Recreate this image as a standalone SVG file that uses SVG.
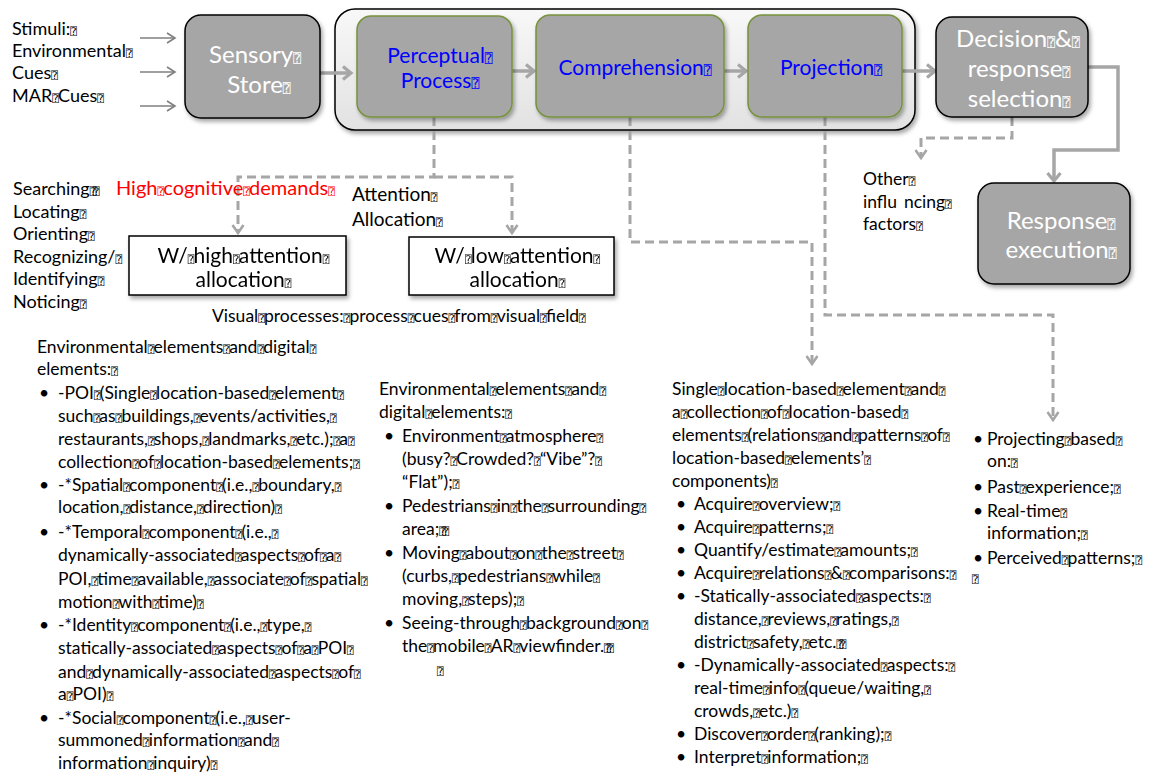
<svg xmlns="http://www.w3.org/2000/svg" width="1149" height="774" viewBox="0 0 1149 774">
  <style>
    .t { font-family: Lato, "Liberation Sans", sans-serif; font-size: 17.5px; fill: #000; }
    .lb { font-size: 18px; }
    .q { font-family: "DejaVu Sans Mono", "DejaVu Sans", monospace; font-size: 10.5px; letter-spacing: -0.5px; }
    .qq { font-family: "DejaVu Sans Mono", "DejaVu Sans", monospace; font-size: 10.5px; letter-spacing: -3px; }
    .qb { font-family: "DejaVu Sans Mono", "DejaVu Sans", monospace; font-size: 13px; }
    .ttl { font-size: 24px; fill: #ffffff; text-anchor: middle; }
    .blue { font-size: 21px; fill: #0000ff; text-anchor: middle; }
    .red { font-size: 20px; fill: #ff0000; }
    .wb { font-size: 21px; text-anchor: middle; }
    .att { font-size: 19px; }
    .gbox { fill: #a6a6a6; stroke: #000; stroke-width: 1.5; }
    .ibox { fill: #a6a6a6; stroke: #77933c; stroke-width: 1.5; }
    .wbox { fill: #ffffff; stroke: #000; stroke-width: 1.5; }
    .dash { fill: none; stroke: #a6a6a6; stroke-width: 3; stroke-dasharray: 9 5; }
    .solid { fill: none; stroke: #a6a6a6; stroke-width: 3.5; }
    .thin { fill: none; stroke: #7f7f7f; stroke-width: 1.6; }
  </style>
  <defs>
    <linearGradient id="panel" x1="0" y1="0" x2="0" y2="1">
      <stop offset="0" stop-color="#f8f8f8"/>
      <stop offset="1" stop-color="#e2e2e2"/>
    </linearGradient>
    <filter id="shadow" x="-10%" y="-10%" width="130%" height="140%">
      <feDropShadow dx="2" dy="3" stdDeviation="2.2" flood-color="#000" flood-opacity="0.35"/>
    </filter>
    <marker id="hd" viewBox="0 0 14 14" refX="11" refY="7" markerWidth="14" markerHeight="14" markerUnits="userSpaceOnUse" orient="auto">
      <path d="M3,1.5 L11,7 L3,12.5" fill="none" stroke="#a6a6a6" stroke-width="2.6" stroke-dasharray="none"/>
    </marker>
    <marker id="hs" viewBox="0 0 16 16" refX="12" refY="8" markerWidth="16" markerHeight="16" markerUnits="userSpaceOnUse" orient="auto">
      <path d="M4,1.5 L12,8 L4,14.5" fill="none" stroke="#a6a6a6" stroke-width="3.2"/>
    </marker>
    <marker id="ht" viewBox="0 0 14 14" refX="12" refY="7" markerWidth="14" markerHeight="14" markerUnits="userSpaceOnUse" orient="auto">
      <path d="M4,2 L12,7 L4,12" fill="none" stroke="#7f7f7f" stroke-width="1.6"/>
    </marker>
  </defs>

  <rect width="1149" height="774" fill="#ffffff"/>

  <!-- outer panel holding the three situation-awareness stages -->
  <g id="panel-stages">
    <rect x="335" y="9" width="580" height="121" rx="20" fill="url(#panel)" stroke="#000" stroke-width="1.5" filter="url(#shadow)"/>
  </g>

  <!-- connectors -->
  <g id="connectors">
    <line class="thin" x1="140" y1="38" x2="175" y2="38" marker-end="url(#ht)"/>
    <line class="thin" x1="140" y1="72" x2="175" y2="72" marker-end="url(#ht)"/>
    <line class="thin" x1="140" y1="106" x2="175" y2="106" marker-end="url(#ht)"/>
    <line class="solid" x1="320" y1="73" x2="351" y2="73" marker-end="url(#hs)"/>
    <line class="solid" x1="512" y1="71" x2="534" y2="71" marker-end="url(#hs)"/>
    <line class="solid" x1="724" y1="71" x2="746" y2="71" marker-end="url(#hs)"/>
    <line class="solid" x1="902" y1="71" x2="935" y2="71" marker-end="url(#hs)"/>
    <path class="solid" d="M1088,67 H1118 V150 H1054 V181" marker-end="url(#hs)"/>
    <path class="dash" d="M434,117 V177 H238 V233" marker-end="url(#hd)"/>
    <path class="dash" d="M434,177 H512 V233" marker-end="url(#hd)"/>
    <path class="dash" d="M630,117 V242 H812 V364" marker-end="url(#hd)"/>
    <path class="dash" d="M825,117 V315 H1053 V420" marker-end="url(#hd)"/>
    <path class="dash" d="M1012,117 V138 H921 V158" marker-end="url(#hd)"/>
  </g>

  <g id="stimuli">
    <text class="t lb" x="12" y="35">Stimuli:<tspan class="q">⍰</tspan></text>
    <text class="t lb" x="12" y="57">Environmental<tspan class="q">⍰</tspan></text>
    <text class="t lb" x="12" y="79">Cues<tspan class="q">⍰</tspan></text>
    <text class="t lb" x="12" y="102">MAR<tspan class="q">⍰</tspan>Cues<tspan class="q">⍰</tspan></text>
  </g>

  <g id="sensory-store">
    <rect class="gbox" x="185" y="15" width="135" height="103" rx="16" filter="url(#shadow)"/>
    <text class="t ttl" x="255" y="63">Sensory<tspan class="qb">⍰</tspan></text>
    <text class="t ttl" x="259" y="93">Store<tspan class="qb">⍰</tspan></text>
  </g>

  <g id="perceptual-process">
    <rect class="ibox" x="357" y="16" width="155" height="101" rx="14" filter="url(#shadow)"/>
    <text class="t blue" x="440" y="63">Perceptual<tspan class="qb">⍰</tspan></text>
    <text class="t blue" x="440" y="88">Process<tspan class="qb">⍰</tspan></text>
  </g>

  <g id="comprehension">
    <rect class="ibox" x="536" y="15" width="188" height="102" rx="14" filter="url(#shadow)"/>
    <text class="t blue" x="635" y="75">Comprehension<tspan class="qb">⍰</tspan></text>
  </g>

  <g id="projection">
    <rect class="ibox" x="748" y="15" width="154" height="102" rx="14" filter="url(#shadow)"/>
    <text class="t blue" x="831" y="75">Projection<tspan class="qb">⍰</tspan></text>
  </g>

  <g id="decision">
    <rect class="gbox" x="936" y="17" width="152" height="100" rx="16" filter="url(#shadow)"/>
    <text class="t ttl" x="1018" y="47">Decision<tspan class="qb">⍰</tspan>&amp;<tspan class="qb">⍰</tspan></text>
    <text class="t ttl" x="1019" y="77">response<tspan class="qb">⍰</tspan></text>
    <text class="t ttl" x="1019" y="107">selection<tspan class="qb">⍰</tspan></text>
  </g>

  <g id="response-execution">
    <rect class="gbox" x="978" y="183" width="152" height="101" rx="16" filter="url(#shadow)"/>
    <text class="t ttl" x="1061" y="229">Response<tspan class="qb">⍰</tspan></text>
    <text class="t ttl" x="1061" y="258">execution<tspan class="qb">⍰</tspan></text>
  </g>

  <g id="other-factors">
    <text class="t" x="863" y="185">Other<tspan class="q">⍰</tspan></text>
    <text class="t" x="863" y="208">influ<tspan dx="7">ncing</tspan><tspan class="q">⍰</tspan></text>
    <text class="t" x="863" y="230">factors<tspan class="q">⍰</tspan></text>
  </g>

  <g id="visual-tasks">
    <text class="t lb" x="13" y="195">Searching<tspan class="qq">⍰⍰</tspan></text>
    <text class="t lb" x="13" y="218">Locating<tspan class="q">⍰</tspan></text>
    <text class="t lb" x="13" y="240">Orienting<tspan class="q">⍰</tspan></text>
    <text class="t lb" x="13" y="263">Recognizing/<tspan class="q">⍰</tspan></text>
    <text class="t lb" x="13" y="285">Identifying<tspan class="q">⍰</tspan></text>
    <text class="t lb" x="13" y="308">Noticing<tspan class="q">⍰</tspan></text>
  </g>

  <g id="cognitive-demands">
    <text class="t red" x="116" y="195">High<tspan class="q">⍰</tspan>cognitive<tspan class="q">⍰</tspan>demands<tspan class="q">⍰</tspan></text>
  </g>

  <g id="attention-allocation">
    <text class="t att" x="352" y="201">Attention<tspan class="q">⍰</tspan></text>
    <text class="t att" x="352" y="226">Allocation<tspan class="q">⍰</tspan></text>
  </g>

  <g id="high-attention" filter="url(#shadow)">
    <rect class="wbox" x="129" y="236" width="217" height="59"/>
    <text class="t wb" x="243" y="263">W/<tspan class="q">⍰</tspan>high<tspan class="q">⍰</tspan>attention<tspan class="q">⍰</tspan></text>
    <text class="t wb" x="243" y="287">allocation<tspan class="q">⍰</tspan></text>
  </g>

  <g id="low-attention" filter="url(#shadow)">
    <rect class="wbox" x="409" y="237" width="205" height="58"/>
    <text class="t wb" x="517" y="263">W/<tspan class="q">⍰</tspan>low<tspan class="q">⍰</tspan>attention<tspan class="q">⍰</tspan></text>
    <text class="t wb" x="517" y="287">allocation<tspan class="q">⍰</tspan></text>
  </g>

  <g id="visual-processes">
    <text class="t" x="212" y="322">Visual<tspan class="q">⍰</tspan>processes:<tspan class="q">⍰</tspan>process<tspan class="q">⍰</tspan>cues<tspan class="q">⍰</tspan>from<tspan class="q">⍰</tspan>visual<tspan class="q">⍰</tspan>field<tspan class="q">⍰</tspan></text>
  </g>

  <g id="perception-elements">
    <text class="t" x="37" y="353">Environmental<tspan class="q">⍰</tspan>elements<tspan class="q">⍰</tspan>and<tspan class="q">⍰</tspan>digital<tspan class="q">⍰</tspan></text>
    <text class="t" x="37" y="375">elements:<tspan class="q">⍰</tspan></text>
    <text class="t" y="399"><tspan x="39">•</tspan><tspan x="58">-POI</tspan><tspan class="q">⍰</tspan>(Single<tspan class="q">⍰</tspan>location-based<tspan class="q">⍰</tspan>element<tspan class="q">⍰</tspan></text>
    <text class="t" x="58" y="422">such<tspan class="q">⍰</tspan>as<tspan class="q">⍰</tspan>buildings,<tspan class="q">⍰</tspan>events/activities,<tspan class="q">⍰</tspan></text>
    <text class="t" x="58" y="445">restaurants,<tspan class="q">⍰</tspan>shops,<tspan class="q">⍰</tspan>landmarks,<tspan class="q">⍰</tspan>etc.);<tspan class="q">⍰</tspan>a<tspan class="q">⍰</tspan></text>
    <text class="t" x="58" y="468">collection<tspan class="q">⍰</tspan>of<tspan class="q">⍰</tspan>location-based<tspan class="q">⍰</tspan>elements;<tspan class="q">⍰</tspan></text>
    <text class="t" y="491"><tspan x="39">•</tspan><tspan x="58">-*Spatial</tspan><tspan class="q">⍰</tspan>component<tspan class="q">⍰</tspan>(i.e.,<tspan class="q">⍰</tspan>boundary,<tspan class="q">⍰</tspan></text>
    <text class="t" x="58" y="513">location,<tspan class="q">⍰</tspan>distance,<tspan class="q">⍰</tspan>direction)<tspan class="q">⍰</tspan></text>
    <text class="t" y="538"><tspan x="39">•</tspan><tspan x="58">-*Temporal</tspan><tspan class="q">⍰</tspan>component<tspan class="q">⍰</tspan>(i.e.,<tspan class="q">⍰</tspan></text>
    <text class="t" x="58" y="561">dynamically-associated<tspan class="q">⍰</tspan>aspects<tspan class="q">⍰</tspan>of<tspan class="q">⍰</tspan>a<tspan class="q">⍰</tspan></text>
    <text class="t" x="58" y="585">POI,<tspan class="q">⍰</tspan>time<tspan class="q">⍰</tspan>available,<tspan class="q">⍰</tspan>associate<tspan class="q">⍰</tspan>of<tspan class="q">⍰</tspan>spatial<tspan class="q">⍰</tspan></text>
    <text class="t" x="58" y="608">motion<tspan class="q">⍰</tspan>with<tspan class="q">⍰</tspan>time)<tspan class="q">⍰</tspan></text>
    <text class="t" y="631"><tspan x="39">•</tspan><tspan x="58">-*Identity</tspan><tspan class="q">⍰</tspan>component<tspan class="q">⍰</tspan>(i.e.,<tspan class="q">⍰</tspan>type,<tspan class="q">⍰</tspan></text>
    <text class="t" x="58" y="654">statically-associated<tspan class="q">⍰</tspan>aspects<tspan class="q">⍰</tspan>of<tspan class="q">⍰</tspan>a<tspan class="q">⍰</tspan>POI<tspan class="q">⍰</tspan></text>
    <text class="t" x="58" y="678">and<tspan class="q">⍰</tspan>dynamically-associated<tspan class="q">⍰</tspan>aspects<tspan class="q">⍰</tspan>of<tspan class="q">⍰</tspan></text>
    <text class="t" x="58" y="700">a<tspan class="q">⍰</tspan>POI)<tspan class="q">⍰</tspan></text>
    <text class="t" y="724"><tspan x="39">•</tspan><tspan x="58">-*Social</tspan><tspan class="q">⍰</tspan>component<tspan class="q">⍰</tspan>(i.e.,<tspan class="q">⍰</tspan>user-</text>
    <text class="t" x="58" y="746">summoned<tspan class="q">⍰</tspan>information<tspan class="q">⍰</tspan>and<tspan class="q">⍰</tspan></text>
    <text class="t" x="58" y="769">information<tspan class="q">⍰</tspan>inquiry)<tspan class="q">⍰</tspan></text>
  </g>

  <g id="low-attention-elements">
    <text class="t" x="379" y="395">Environmental<tspan class="q">⍰</tspan>elements<tspan class="q">⍰</tspan>and<tspan class="q">⍰</tspan></text>
    <text class="t" x="379" y="418">digital<tspan class="q">⍰</tspan>elements:<tspan class="q">⍰</tspan></text>
    <text class="t" y="442"><tspan x="384">•</tspan><tspan x="402">Environment</tspan><tspan class="q">⍰</tspan>atmosphere<tspan class="q">⍰</tspan></text>
    <text class="t" x="402" y="465">(busy?<tspan class="q">⍰</tspan>Crowded?<tspan class="q">⍰</tspan>“Vibe”?<tspan class="q">⍰</tspan></text>
    <text class="t" x="402" y="488">“Flat”);<tspan class="q">⍰</tspan></text>
    <text class="t" y="512"><tspan x="384">•</tspan><tspan x="402">Pedestrians</tspan><tspan class="q">⍰</tspan>in<tspan class="q">⍰</tspan>the<tspan class="q">⍰</tspan>surrounding<tspan class="q">⍰</tspan></text>
    <text class="t" x="402" y="535">area;<tspan class="qq">⍰⍰</tspan></text>
    <text class="t" y="559"><tspan x="384">•</tspan><tspan x="402">Moving</tspan><tspan class="q">⍰</tspan>about<tspan class="q">⍰</tspan>on<tspan class="q">⍰</tspan>the<tspan class="q">⍰</tspan>street<tspan class="q">⍰</tspan></text>
    <text class="t" x="402" y="582">(curbs,<tspan class="q">⍰</tspan>pedestrians<tspan class="q">⍰</tspan>while<tspan class="q">⍰</tspan></text>
    <text class="t" x="402" y="605">moving,<tspan class="q">⍰</tspan>steps);<tspan class="q">⍰</tspan></text>
    <text class="t" y="629"><tspan x="384">•</tspan><tspan x="402">Seeing-through</tspan><tspan class="q">⍰</tspan>background<tspan class="q">⍰</tspan>on<tspan class="q">⍰</tspan></text>
    <text class="t" x="402" y="652">the<tspan class="q">⍰</tspan>mobile<tspan class="q">⍰</tspan>AR<tspan class="q">⍰</tspan>viewfinder.<tspan class="qq">⍰⍰</tspan></text>
    <text class="t" x="437" y="675"><tspan class="q">⍰</tspan></text>
  </g>

  <g id="comprehension-elements">
    <text class="t" x="672" y="395">Single<tspan class="q">⍰</tspan>location-based<tspan class="q">⍰</tspan>element<tspan class="q">⍰</tspan>and<tspan class="q">⍰</tspan></text>
    <text class="t" x="672" y="418">a<tspan class="q">⍰</tspan>collection<tspan class="q">⍰</tspan>of<tspan class="q">⍰</tspan>location-based<tspan class="q">⍰</tspan></text>
    <text class="t" x="672" y="441">elements<tspan class="q">⍰</tspan>(relations<tspan class="q">⍰</tspan>and<tspan class="q">⍰</tspan>patterns<tspan class="q">⍰</tspan>of<tspan class="q">⍰</tspan></text>
    <text class="t" x="672" y="464">location-based<tspan class="q">⍰</tspan>elements’<tspan class="q">⍰</tspan></text>
    <text class="t" x="672" y="487">components)<tspan class="q">⍰</tspan></text>
    <text class="t" y="510"><tspan x="676">•</tspan><tspan x="694">Acquire</tspan><tspan class="q">⍰</tspan>overview;<tspan class="q">⍰</tspan></text>
    <text class="t" y="533"><tspan x="676">•</tspan><tspan x="694">Acquire</tspan><tspan class="q">⍰</tspan>patterns;<tspan class="q">⍰</tspan></text>
    <text class="t" y="556"><tspan x="676">•</tspan><tspan x="694">Quantify/estimate</tspan><tspan class="q">⍰</tspan>amounts;<tspan class="q">⍰</tspan></text>
    <text class="t" y="579"><tspan x="676">•</tspan><tspan x="694">Acquire</tspan><tspan class="q">⍰</tspan>relations<tspan class="q">⍰</tspan>&amp;<tspan class="q">⍰</tspan>comparisons:<tspan class="q">⍰</tspan></text>
    <text class="t" y="602"><tspan x="676">•</tspan><tspan x="694">-Statically-associated</tspan><tspan class="q">⍰</tspan>aspects:<tspan class="q">⍰</tspan></text>
    <text class="t" x="694" y="625">distance,<tspan class="q">⍰</tspan>reviews,<tspan class="q">⍰</tspan>ratings,<tspan class="q">⍰</tspan></text>
    <text class="t" x="694" y="648">district<tspan class="q">⍰</tspan>safety,<tspan class="q">⍰</tspan>etc.<tspan class="qq">⍰⍰</tspan></text>
    <text class="t" y="671"><tspan x="676">•</tspan><tspan x="694">-Dynamically-associated</tspan><tspan class="q">⍰</tspan>aspects:<tspan class="q">⍰</tspan></text>
    <text class="t" x="694" y="694">real-time<tspan class="q">⍰</tspan>info<tspan class="q">⍰</tspan>(queue/waiting,<tspan class="q">⍰</tspan></text>
    <text class="t" x="694" y="717">crowds,<tspan class="q">⍰</tspan>etc.)<tspan class="q">⍰</tspan></text>
    <text class="t" y="740"><tspan x="676">•</tspan><tspan x="694">Discover</tspan><tspan class="q">⍰</tspan>order<tspan class="q">⍰</tspan>(ranking);<tspan class="q">⍰</tspan></text>
    <text class="t" y="763"><tspan x="676">•</tspan><tspan x="694">Interpret</tspan><tspan class="q">⍰</tspan>information;<tspan class="q">⍰</tspan></text>
  </g>

  <g id="projection-basis">
    <text class="t" y="445"><tspan x="973">•</tspan><tspan x="987">Projecting</tspan><tspan class="q">⍰</tspan>based<tspan class="q">⍰</tspan></text>
    <text class="t" x="987" y="467">on:<tspan class="q">⍰</tspan></text>
    <text class="t" y="493"><tspan x="973">•</tspan><tspan x="987">Past</tspan><tspan class="q">⍰</tspan>experience;<tspan class="q">⍰</tspan></text>
    <text class="t" y="517"><tspan x="973">•</tspan><tspan x="987">Real-time</tspan><tspan class="q">⍰</tspan></text>
    <text class="t" x="987" y="539">information;<tspan class="q">⍰</tspan></text>
    <text class="t" y="564"><tspan x="973">•</tspan><tspan x="987">Perceived</tspan><tspan class="q">⍰</tspan>patterns;<tspan class="q">⍰</tspan></text>
    <text class="t" x="972" y="583"><tspan class="q">⍰</tspan></text>
  </g>
</svg>
